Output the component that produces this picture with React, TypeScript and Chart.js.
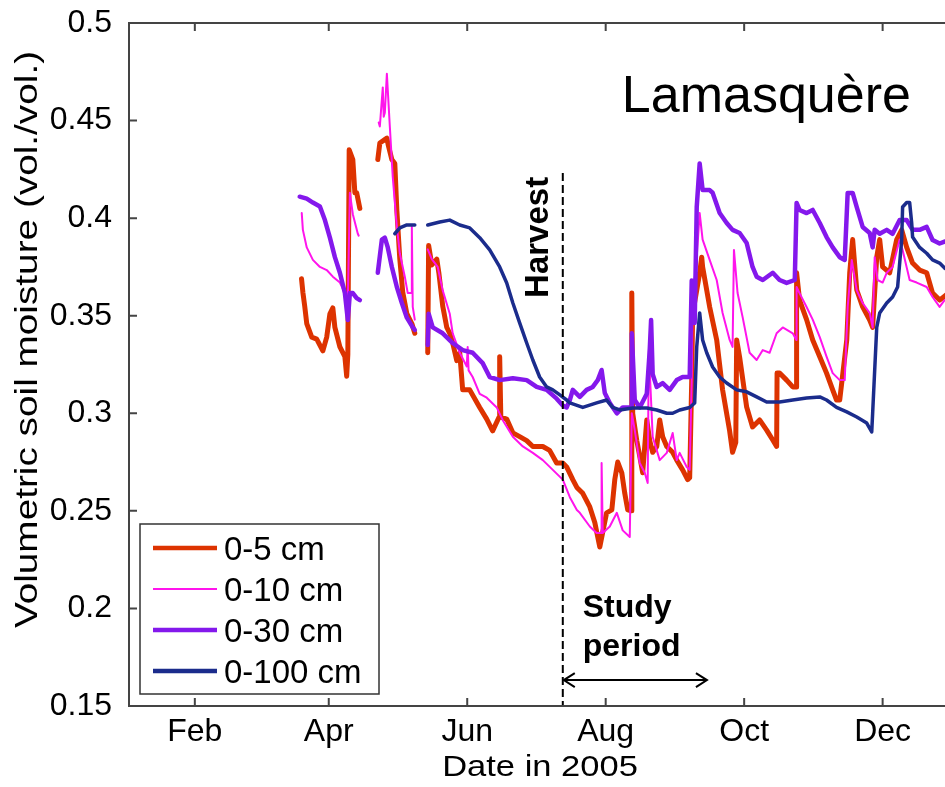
import React, { useEffect, useRef } from "react";
import { Chart, registerables } from "chart.js";

Chart.register(...registerables);

const FONT = '"Liberation Sans", Arial, Helvetica, sans-serif';

// ---- axes (x = day of year 2005) ----
const X_MIN = 3;
const X_MAX = 366;
const Y_MIN = 0.15;
const Y_MAX = 0.5;
const monthTickDays = [32, 91, 152, 213, 274, 335];
const monthTickLabels = ["Feb", "Apr", "Jun", "Aug", "Oct", "Dec"];
const yTickValues = [0.15, 0.2, 0.25, 0.3, 0.35, 0.4, 0.45, 0.5];

// ---- series ----
const seriesLabels = ["0-5 cm", "0-10 cm", "0-30 cm", "0-100 cm"];
const seriesColors = ["#DD3300", "#FF14EC", "#8418EC", "#1B2C8C"];
const seriesWidths = [5, 2, 4.5, 3.5];
const legendWidths = [4.5, 2, 4.5, 4.5];

// 0-5 cm
const days5 = [
  79.0, 79.6, 80.4, 81.3, 83.5, 85.7, 88.4, 90.1, 91.5, 92.8,
  93.7, 95.9, 98.1, 98.9, 99.4, 100.0, 100.3, 101.6, 102.5, 103.3,
  104.7, 108,
  112.6, 113.5, 116.6, 117.3, 118.8, 120.1, 121.0, 122.3, 123.6, 125.4,
  127.6, 128.9, 131,
  134.6, 135.0, 136.4, 138.6, 139.5, 141.2, 143.0, 144.3, 145.6, 147.4,
  148.7, 150.0, 153.1, 157.5, 160.6, 163.2, 166.0, 166.3, 166.8, 169.4,
  172.1, 175.1, 178.2, 180.9, 185.3, 188.3, 191.4, 194.1, 195.8, 198.5,
  200.3, 202.9, 206.0, 208.2, 210.4, 213.4, 215.7, 217.0, 218.3, 220.1,
  221.4, 222.7, 224.3, 224.5, 224.9, 226.7, 228.0, 229.3, 231.1, 232.4,
  233.7, 235.5, 236.8, 238.1, 239.9, 242.5, 244.3, 246.9, 249.1, 250.0,
  250.9, 251.3, 253.1, 254.4, 255.3, 255.7, 258.8, 261.9, 264.5, 267.6,
  268.9, 270.3, 270.7, 272.0, 275.1, 277.7, 280.8, 283.9, 286.6, 288.3,
  288.5, 289.6, 292.7, 295.4, 296.9, 297.1, 298.4, 301.5, 304.2, 307.3,
  310.3, 313.0, 314.7, 316.1, 319.2, 320.5, 321.8, 323.6, 326.2, 329.3,
  330.6, 332.4, 333.7, 335.0, 338.1, 341.2, 343.4, 345.6, 348.2, 351.3,
  354.4, 357.0, 360.1, 362.3, 364.5,
];
const vwc5 = [
  0.369, 0.362, 0.355, 0.346, 0.339, 0.338, 0.332, 0.339, 0.351, 0.354,
  0.344, 0.334, 0.329, 0.319, 0.33, 0.435, 0.435, 0.43, 0.413, 0.413,
  0.405, null,
  0.43, 0.4385, 0.441, 0.437, 0.43, 0.428, 0.404, 0.379, 0.362, 0.351,
  0.346, 0.341, null,
  0.331, 0.386, 0.376, 0.379, 0.372, 0.355, 0.344, 0.341, 0.336, 0.327,
  0.331, 0.312, 0.312, 0.303, 0.297, 0.291, 0.298, 0.329, 0.298, 0.297,
  0.29, 0.288, 0.286, 0.283, 0.283, 0.281, 0.2745, 0.2745, 0.2725, 0.266,
  0.262, 0.259, 0.252, 0.244, 0.2315, 0.249, 0.2505, 0.266, 0.275, 0.2695,
  0.259, 0.2505, 0.25, 0.3616, 0.3, 0.286, 0.278, 0.2695, 0.2966, 0.286,
  0.28, 0.283, 0.2966, 0.288, 0.283, 0.28, 0.276, 0.271, 0.266, 0.267,
  0.317, 0.351, 0.363, 0.372, 0.38, 0.375, 0.3545, 0.3376, 0.312, 0.291,
  0.28, 0.285, 0.3376, 0.3288, 0.3032, 0.293, 0.2966, 0.2914, 0.2863, 0.283,
  0.3206, 0.3206, 0.317, 0.3135, 0.3135, 0.372, 0.358, 0.348, 0.3376, 0.329,
  0.3206, 0.312, 0.3068, 0.3068, 0.3376, 0.372, 0.389, 0.3632, 0.3545, 0.3478,
  0.344, 0.38, 0.389, 0.375, 0.372, 0.389, 0.394, 0.385, 0.377, 0.3734,
  0.372, 0.3616, 0.358, 0.36, 0.362,
];

// 0-10 cm
const days10 = [
  79.1, 79.6, 81.3, 84.0, 87.1, 90.1, 92.8, 95.9, 98.1, 99.4,
  100.3, 101.6, 103.8, 104.2, 108,
  113.0, 113.5, 114.8, 115.2, 115.7, 116.6, 117.9, 119.2, 121.0, 122.3,
  124.5, 125.8, 127.4, 127.6, 128.0, 128.9, 131,
  134.6, 136.4, 139.0, 141.2, 144.3, 145.6, 148.7, 151.8, 152.2, 152.6,
  154.4, 157.5, 160.6, 165.0, 167.6, 172.1, 176.5, 180.9, 185.3, 189.7,
  194.1, 197.2, 200.3, 201.6, 206.0, 209.0, 211.0, 211.2, 211.7, 214.8,
  217.9, 220.5, 223.6, 224.5, 225.8, 228.0, 230.2, 231.5, 232.0, 233.7,
  236.8, 239.9, 242.5, 244.3, 245.6, 248.7, 250.0, 250.9, 251.3, 253.1,
  254.4, 255.7, 258.8, 261.9, 264.5, 267.6, 268.9, 269.5, 271.1, 273.3,
  276.4, 279.5, 282.2, 285.2, 288.3, 291.0, 295.4, 297.0, 297.1, 298.4,
  301.5, 304.2, 307.3, 310.3, 313.0, 316.1, 318.3, 319.6, 321.4, 323.6,
  326.2, 329.3, 330.6, 331.5, 332.8, 335.0, 336.8, 339.4, 342.5, 343.8,
  346.9, 350.0, 354.4, 357.0, 360.1, 362.3, 364.5,
];
const vwc10 = [
  0.4026, 0.394, 0.385, 0.3786, 0.375, 0.3734, 0.37, 0.367, 0.3616, 0.358,
  0.413, 0.402, 0.392, 0.391, null,
  0.449, 0.447, 0.467, 0.452, 0.454, 0.474, 0.447, 0.421, 0.3955, 0.382,
  0.37, 0.3616, 0.3616, 0.3955, 0.3545, 0.348, null,
  0.384, 0.379, 0.375, 0.363, 0.351, 0.341, 0.331, 0.324, 0.334, 0.322,
  0.3186, 0.31, 0.308, 0.303, 0.2966, 0.288, 0.283, 0.2797, 0.276, 0.271,
  0.266, 0.257, 0.2504, 0.249, 0.242, 0.2387, 0.2387, 0.2745, 0.2387, 0.242,
  0.249, 0.24, 0.2366, 0.3, 0.2914, 0.2745, 0.2695, 0.2643, 0.3324, 0.288,
  0.276, 0.2797, 0.2899, 0.276, 0.2797, 0.2725, 0.271, 0.317, 0.358, 0.38,
  0.4026, 0.389, 0.3786, 0.3683, 0.3514, 0.3376, 0.334, 0.3837, 0.3616, 0.3494,
  0.331, 0.3273, 0.3324, 0.331, 0.341, 0.344, 0.341, 0.3376, 0.3647, 0.3616,
  0.3545, 0.348, 0.339, 0.329, 0.3206, 0.317, 0.317, 0.3545, 0.3786, 0.363,
  0.3565, 0.3514, 0.344, 0.38, 0.3683, 0.367, 0.372, 0.375, 0.389, 0.3837,
  0.3683, 0.367, 0.3647, 0.3596, 0.3545, 0.358, 0.357,
];

// 0-30 cm
const days30 = [
  78.2, 81.3, 84.0, 87.1, 89.3, 91.5, 93.7, 95.9, 98.1, 99.4,
  100.3, 101.6, 103.3, 104.7, 108,
  112.6, 114.4, 115.7, 117.0, 118.8, 121.0, 123.2, 125.4, 128.0, 128.9,
  131,
  134.6, 135.0, 136.8, 141.2, 145.6, 150.0, 154.4, 158.8, 161.9, 166.3,
  172.1, 178.2, 182.6, 187.0, 191.4, 194.1, 195.8, 197.2, 198.5, 201.6,
  204.6, 207.3, 209.5, 211.2, 212.6, 214.8, 217.9, 220.5, 222.7, 224.3,
  224.5, 225.8, 228.0, 231.1, 232.4, 233.0, 233.7, 235.5, 238.1, 241.2,
  244.3, 246.9, 250.0, 250.9, 252.2, 253.1, 254.4, 255.7, 258.8, 260.1,
  263.2, 266.3, 268.9, 272.0, 275.1, 277.7, 279.5, 282.2, 286.6, 289.6,
  292.7, 296.3, 297.1, 298.4, 301.5, 304.2, 307.3, 310.3, 313.0, 316.1,
  318.3, 319.6, 321.8, 323.6, 326.2, 329.3, 330.6, 331.5, 333.7, 336.8,
  339.4, 342.5, 345.6, 348.2, 351.3, 354.4, 357.0, 360.1, 362.3, 364.5,
];
const vwc30 = [
  0.411, 0.41, 0.408, 0.406, 0.399, 0.39, 0.38, 0.372, 0.3616, 0.3478,
  0.3616, 0.3616, 0.359, 0.358, null,
  0.372, 0.389, 0.39, 0.385, 0.375, 0.3647, 0.3565, 0.349, 0.344, 0.3427,
  null,
  0.335, 0.351, 0.344, 0.341, 0.336, 0.3324, 0.331, 0.3257, 0.3186, 0.317,
  0.318, 0.317, 0.3135, 0.312, 0.3075, 0.304, 0.303, 0.3068, 0.312, 0.3084,
  0.312, 0.3135, 0.317, 0.3222, 0.3104, 0.3053, 0.3, 0.303, 0.303, 0.303,
  0.341, 0.3068, 0.303, 0.31, 0.3324, 0.3478, 0.32, 0.3135, 0.3155, 0.312,
  0.317, 0.3186, 0.3186, 0.368, 0.3463, 0.4057, 0.428, 0.4144, 0.4144, 0.413,
  0.4026, 0.3975, 0.394, 0.3924, 0.3873, 0.375, 0.37, 0.3683, 0.372, 0.3683,
  0.3668, 0.3683, 0.4078, 0.4042, 0.4026, 0.4042, 0.3975, 0.3903, 0.385, 0.38,
  0.3786, 0.4129, 0.4129, 0.4057, 0.3955, 0.3924, 0.385, 0.394, 0.392, 0.394,
  0.392, 0.399, 0.399, 0.394, 0.394, 0.3955, 0.3888, 0.387, 0.388, 0.388,
];

// 0-100 cm
const days100 = [
  120.1, 122.3, 125.4, 128.9, 131,
  134.6, 139.9, 144.3, 148.7, 153.1, 157.5, 161.9, 166.3, 169.4, 172.1,
  175.1, 178.2, 180.9, 183.9, 187.0, 189.7, 192.8, 195.8, 197.2, 202.9,
  209.0, 213.4, 216.1, 219.2, 224.9, 231.1, 235.5, 239.9, 242.5, 245.6,
  250.0, 252.2, 253.1, 254.4, 255.7, 257.5, 260.1, 263.2, 266.3, 270.7,
  275.1, 279.5, 283.9, 289.6, 295.4, 301.5, 307.3, 310.3, 314.7, 319.2,
  323.6, 328.0, 330.2, 330.6, 332.4, 333.7, 336.8, 339.4, 341.6, 343.4,
  343.8, 345.6, 346.9, 347.8, 348.2, 351.3, 354.4, 357.0, 360.1, 362.3,
  364.5,
];
const vwc100 = [
  0.392, 0.395, 0.3965, 0.3965, null,
  0.3965, 0.398, 0.399, 0.3965, 0.395, 0.39, 0.3837, 0.375, 0.3668, 0.3565,
  0.3463, 0.336, 0.3273, 0.3186, 0.3135, 0.312, 0.3094, 0.3068, 0.3053, 0.303,
  0.3053, 0.3068, 0.303, 0.3017, 0.3027, 0.3027, 0.3017, 0.3, 0.3, 0.3017,
  0.303, 0.3053, 0.334, 0.3514, 0.3376, 0.331, 0.3237, 0.3186, 0.3155, 0.312,
  0.311, 0.3084, 0.3058, 0.3058, 0.3068, 0.3078, 0.3084, 0.3068, 0.303, 0.3007,
  0.2981, 0.295, 0.2904, 0.3, 0.344, 0.3514, 0.3565, 0.3596, 0.3647, 0.389,
  0.4057, 0.408, 0.408, 0.3975, 0.3903, 0.385, 0.382, 0.3786, 0.377, 0.3744,
  0.373,
];

const seriesDays = [days5, days10, days30, days100];
const seriesValues = [vwc5, vwc10, vwc30, vwc100];

// ---- annotations (data units) ----
const harvestDay = 194.1;
const harvestTopValue = 0.4231;
const studyEndDay = 257.6;
const studyArrowValue = 0.1633;
const siteName = "Lamasquère";
const siteDay = 220.1;
const siteValue = 0.4544;
const harvestText = "Harvest";
const harvestTextDay = 187.5;
const harvestTextValue = 0.3591;
const studyLines = ["Study", "period"];
const studyTextDay = 202.9;
const studyTextValues = [0.1956, 0.1756];
const xTitle = "Date in 2005";
const yTitle = "Volumetric soil moisture (vol./vol.)";

const decorPlugin = {
  id: "decor",
  afterDatasetsDraw(chart: any) {
    const { ctx, chartArea } = chart;
    const xs = chart.scales.x;
    const ys = chart.scales.y;
    ctx.save();
    // harvest dashed line
    const hx = xs.getPixelForValue(harvestDay);
    ctx.strokeStyle = "#000";
    ctx.lineWidth = 2;
    ctx.setLineDash([8, 4]);
    ctx.beginPath();
    ctx.moveTo(hx, ys.getPixelForValue(harvestTopValue));
    ctx.lineTo(hx, chartArea.bottom);
    ctx.stroke();
    ctx.setLineDash([]);

    // study period arrow
    const ay = ys.getPixelForValue(studyArrowValue);
    const ax1 = hx + 1;
    const ax2 = xs.getPixelForValue(studyEndDay);
    ctx.lineWidth = 2;
    ctx.beginPath();
    ctx.moveTo(ax1, ay);
    ctx.lineTo(ax2, ay);
    ctx.moveTo(ax1 + 11, ay - 7);
    ctx.lineTo(ax1, ay);
    ctx.lineTo(ax1 + 11, ay + 7);
    ctx.moveTo(ax2 - 11, ay - 7);
    ctx.lineTo(ax2, ay);
    ctx.lineTo(ax2 - 11, ay + 7);
    ctx.stroke();

    ctx.fillStyle = "#000";
    ctx.textBaseline = "alphabetic";
    ctx.textAlign = "left";
    // site name
    ctx.font = `52px ${FONT}`;
    ctx.fillText(siteName, xs.getPixelForValue(siteDay), ys.getPixelForValue(siteValue));
    // study period
    ctx.font = `bold 32px ${FONT}`;
    studyLines.forEach((t, i) => {
      ctx.fillText(t, xs.getPixelForValue(studyTextDay), ys.getPixelForValue(studyTextValues[i]));
    });
    // harvest label
    ctx.save();
    ctx.translate(xs.getPixelForValue(harvestTextDay), ys.getPixelForValue(harvestTextValue));
    ctx.rotate(-Math.PI / 2);
    ctx.font = `bold 33px ${FONT}`;
    ctx.fillText(harvestText, 0, 0);
    ctx.restore();
    ctx.restore();
  },
  afterDraw(chart: any) {
    const { ctx, chartArea } = chart;
    const xs = chart.scales.x;
    const ys = chart.scales.y;
    const { left, right, top, bottom } = chartArea;
    ctx.save();
    // frame + inward ticks
    ctx.strokeStyle = "#444";
    ctx.lineWidth = 2;
    ctx.strokeRect(left, top, right - left, bottom - top);
    ctx.beginPath();
    monthTickDays.forEach((d) => {
      const px = xs.getPixelForValue(d);
      ctx.moveTo(px, bottom);
      ctx.lineTo(px, bottom - 8);
      ctx.moveTo(px, top);
      ctx.lineTo(px, top + 8);
    });
    yTickValues.forEach((v) => {
      const py = ys.getPixelForValue(v);
      ctx.moveTo(left, py);
      ctx.lineTo(left + 8, py);
      ctx.moveTo(right, py);
      ctx.lineTo(right - 8, py);
    });
    ctx.stroke();

    // legend
    const bx = left + 11;
    const bw = 239;
    const bh = 170;
    const by = bottom - 182;
    ctx.fillStyle = "#fff";
    ctx.fillRect(bx, by, bw, bh);
    ctx.strokeStyle = "#333";
    ctx.lineWidth = 1.5;
    ctx.strokeRect(bx, by, bw, bh);
    ctx.font = `33px ${FONT}`;
    ctx.textAlign = "left";
    ctx.textBaseline = "alphabetic";
    seriesLabels.forEach((lab, i) => {
      const ry = by + 24 + i * 41;
      ctx.strokeStyle = seriesColors[i];
      ctx.lineWidth = legendWidths[i];
      ctx.beginPath();
      ctx.moveTo(bx + 13, ry);
      ctx.lineTo(bx + 77, ry);
      ctx.stroke();
      ctx.fillStyle = "#000";
      ctx.fillText(lab, bx + 84, ry + 12);
    });

    // axis titles (stretched like the original)
    ctx.fillStyle = "#000";
    ctx.textAlign = "center";
    ctx.save();
    ctx.translate(37, (top + bottom) / 2 - 25);
    ctx.rotate(-Math.PI / 2);
    ctx.scale(1.25, 1);
    ctx.font = `31px ${FONT}`;
    ctx.fillText(yTitle, 0, 0);
    ctx.restore();
    ctx.save();
    ctx.translate(540, bottom + 70);
    ctx.scale(1.15, 1);
    ctx.font = `30px ${FONT}`;
    ctx.fillText(xTitle, 0, 0);
    ctx.restore();
    ctx.restore();
  },
};

export default function App() {
  const canvasRef = useRef<HTMLCanvasElement | null>(null);

  useEffect(() => {
    const canvas = canvasRef.current;
    if (!canvas) return;
    const datasets = seriesLabels.map((label, i) => ({
      label,
      data: seriesDays[i].map((d, j) => ({ x: d, y: seriesValues[i][j] })),
      borderColor: seriesColors[i],
      backgroundColor: seriesColors[i],
      borderWidth: seriesWidths[i],
      borderJoinStyle: "round",
      borderCapStyle: "round",
      pointRadius: 0,
      tension: 0,
      spanGaps: false,
      fill: false,
      order: 4 - i,
    }));
    const chart = new Chart(canvas, {
      type: "line",
      data: { datasets },
      options: {
        animation: false,
        responsive: false,
        devicePixelRatio: 1,
        layout: { padding: { top: 23, right: 7, left: 0, bottom: 0 } },
        plugins: {
          legend: { display: false },
          tooltip: { enabled: false },
          title: { display: false },
        },
        scales: {
          x: {
            type: "linear",
            min: X_MIN,
            max: X_MAX,
            grid: { display: false, drawTicks: false },
            border: { display: false },
            afterBuildTicks: (s: any) => {
              s.ticks = monthTickDays.map((v) => ({ value: v }));
            },
            afterFit: (s: any) => {
              s.height = 81;
              s.paddingLeft = 0;
              s.paddingRight = 0;
            },
            ticks: {
              autoSkip: false,
              maxRotation: 0,
              padding: 7,
              color: "#000",
              font: { family: FONT, size: 32 },
              callback: (v: any) => {
                const k = monthTickDays.indexOf(Number(v));
                return k >= 0 ? monthTickLabels[k] : "";
              },
            },
          },
          y: {
            type: "linear",
            min: Y_MIN,
            max: Y_MAX,
            grid: { display: false, drawTicks: false },
            border: { display: false },
            afterBuildTicks: (s: any) => {
              s.ticks = yTickValues.map((v) => ({ value: v }));
            },
            afterFit: (s: any) => {
              s.width = 129;
              s.paddingTop = 0;
              s.paddingBottom = 0;
            },
            ticks: {
              padding: 17,
              color: "#000",
              font: { family: FONT, size: 32 },
              callback: (v: any) => String(Number(Number(v).toFixed(2))),
            },
          },
        },
      },
      plugins: [decorPlugin],
    } as any);
    return () => chart.destroy();
  }, []);

  return (
    <div
      style={{
        position: "fixed",
        left: 0,
        top: 0,
        width: 945,
        height: 787,
        overflow: "hidden",
        background: "#fff",
      }}
    >
      <canvas ref={canvasRef} width={960} height={787} style={{ display: "block" }} />
    </div>
  );
}
